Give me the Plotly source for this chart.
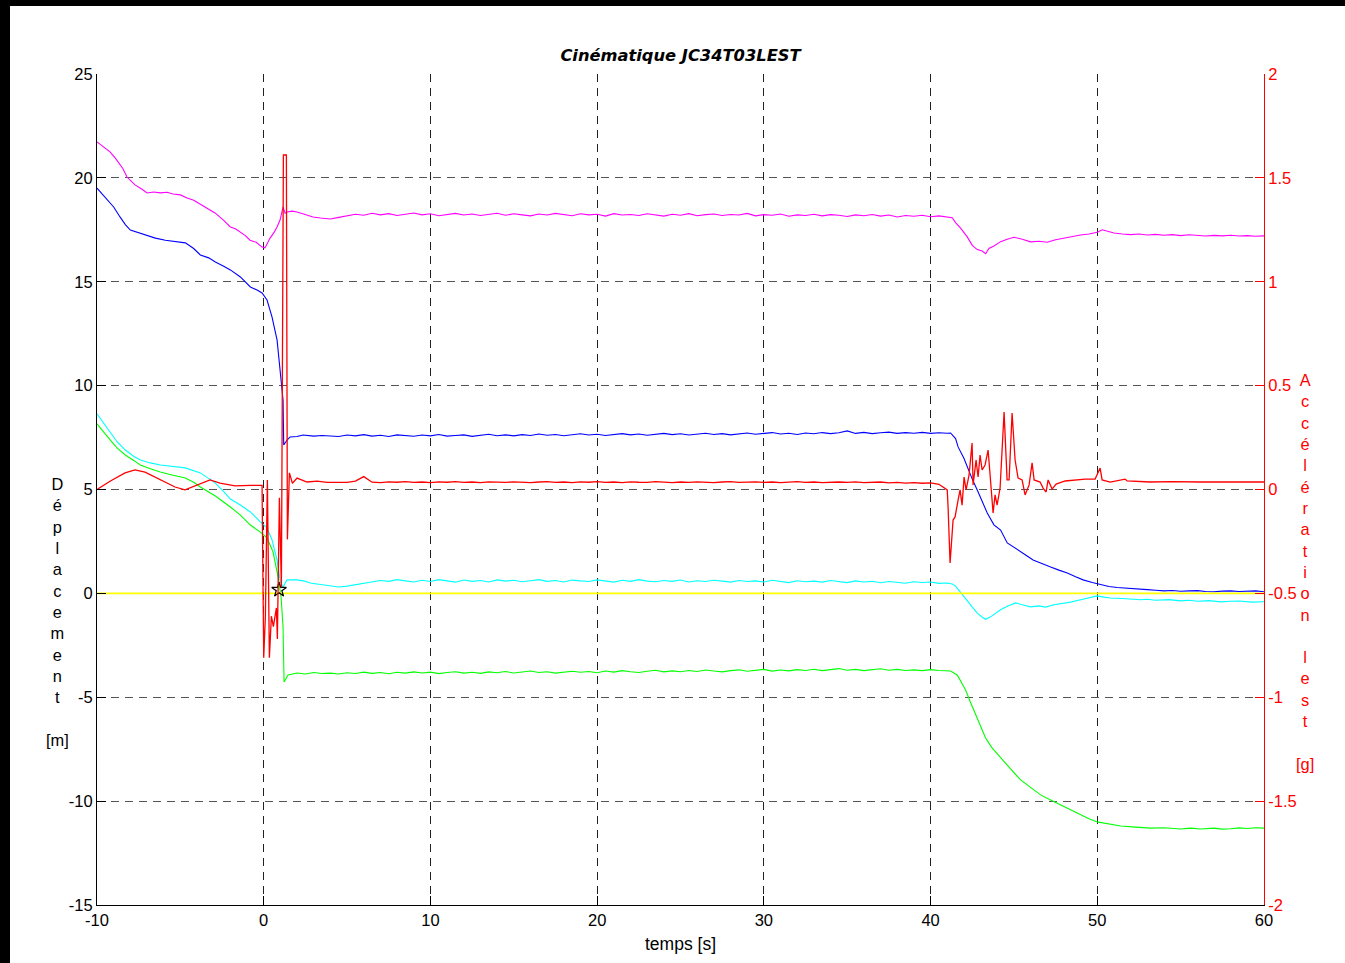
import plotly.graph_objects as go

# ---------------------------------------------------------------- data
# shared sample times of the steady part of the run (s)
t_plateau = [
    4.5, 5.0, 5.5, 6.0, 6.5, 7.0, 7.5, 8.0, 8.5, 9.0,
    9.5, 10.0, 10.5, 11.0, 11.5, 12.0, 12.5, 13.0, 13.5, 14.0,
    14.5, 15.0, 15.5, 16.0, 16.5, 17.0, 17.5, 18.0, 18.5, 19.0,
    19.5, 20.0, 20.5, 21.0, 21.5, 22.0, 22.5, 23.0, 23.5, 24.0,
    24.5, 25.0, 25.5, 26.0, 26.5, 27.0, 27.5, 28.0, 28.5, 29.0,
    29.5, 30.0, 30.5, 31.0, 31.5, 32.0, 32.5, 33.0, 33.5, 34.0,
    34.5, 35.0, 35.5, 36.0, 36.5, 37.0, 37.5, 38.0, 38.5, 39.0,
    39.5, 40.0, 40.5, 41.0,
]

# magenta displacement (m)
magenta_start = [
    (-10.0, 21.73), (-9.6, 21.5), (-9.22, 21.25), (-8.9, 20.95), (-8.74, 20.76),
    (-8.45, 20.45), (-8.2, 20.04), (-7.72, 19.66), (-7.3, 19.45), (-7.0, 19.27),
    (-6.6, 19.32), (-6.2, 19.28), (-5.8, 19.31), (-5.44, 19.22), (-5.0, 19.18),
    (-4.6, 19.03), (-4.2, 18.92), (-3.8, 18.74), (-3.3, 18.5), (-2.9, 18.3),
    (-2.4, 17.95), (-2.0, 17.64), (-1.7, 17.55), (-1.42, 17.4), (-1.1, 17.22),
    (-0.82, 17.0), (-0.45, 16.9), (-0.1, 16.67), (0.08, 16.63), (0.38, 17.1),
    (0.6, 17.35), (0.8, 17.64), (0.98, 17.97), (1.16, 18.6), (1.28, 18.3),
    (1.4, 18.36), (1.7, 18.4), (2.0, 18.36), (2.5, 18.25), (2.96, 18.12),
    (3.4, 18.07), (4.0, 18.02),
]
magenta_plateau = [
    18.10, 18.18, 18.25, 18.20, 18.30, 18.22, 18.28, 18.19, 18.26, 18.31,
    18.22, 18.27, 18.18, 18.25, 18.29, 18.21, 18.26, 18.19, 18.24, 18.30,
    18.20, 18.27, 18.22, 18.17, 18.26, 18.21, 18.29, 18.23, 18.18, 18.27,
    18.22, 18.25, 18.16, 18.28, 18.21, 18.24, 18.19, 18.27, 18.22, 18.16,
    18.25, 18.20, 18.28, 18.18, 18.23, 18.26, 18.19, 18.24, 18.21, 18.29,
    18.17, 18.23, 18.20, 18.26, 18.15, 18.22, 18.19, 18.25, 18.17, 18.23,
    18.20, 18.14, 18.22, 18.18, 18.24, 18.16, 18.21, 18.12, 18.19, 18.15,
    18.20, 18.13, 18.17, 18.12,
]
magenta_end = [
    (41.3, 18.08), (41.5, 17.85), (41.8, 17.58), (42.2, 17.16), (42.5, 16.75),
    (42.8, 16.55), (43.1, 16.48), (43.3, 16.35), (43.5, 16.6), (43.8, 16.72),
    (44.2, 16.93), (44.6, 17.05), (45.0, 17.14), (45.5, 17.05), (46.0, 16.92),
    (46.5, 16.95), (47.0, 16.9), (47.5, 17.02), (48.0, 17.1), (48.5, 17.18),
    (49.0, 17.25), (49.5, 17.3), (50.0, 17.38), (50.3, 17.5), (50.6, 17.42),
    (51.0, 17.35), (51.5, 17.3), (52.0, 17.27), (52.5, 17.3), (53.0, 17.25),
    (53.5, 17.28), (54.0, 17.24), (54.5, 17.27), (55.0, 17.22), (55.5, 17.26),
    (56.0, 17.24), (56.5, 17.2), (57.0, 17.23), (57.5, 17.21), (58.0, 17.24),
    (58.5, 17.2), (59.0, 17.22), (59.5, 17.19), (60.0, 17.21),
]

# blue displacement (m)
blue_start = [
    (-10.0, 19.51), (-9.7, 19.25), (-9.4, 18.98), (-9.0, 18.6), (-8.62, 18.12),
    (-8.3, 17.75), (-8.0, 17.49), (-7.5, 17.35), (-7.1, 17.25), (-6.5, 17.1),
    (-5.9, 17.0), (-5.3, 16.95), (-4.7, 16.87), (-4.2, 16.6), (-3.8, 16.29),
    (-3.3, 16.15), (-2.9, 15.95), (-2.4, 15.75), (-2.0, 15.57), (-1.4, 15.23),
    (-0.8, 14.75), (-0.4, 14.6), (-0.1, 14.46), (0.2, 14.12), (0.5, 13.3),
    (0.8, 12.2), (1.04, 10.27), (1.16, 9.31), (1.2, 7.14), (1.4, 7.38),
    (1.58, 7.53), (2.0, 7.55), (2.36, 7.62), (3.0, 7.57), (3.5, 7.6),
    (4.0, 7.56),
]
blue_plateau = [
    7.55, 7.62, 7.58, 7.64, 7.57, 7.61, 7.55, 7.63, 7.59, 7.56,
    7.62, 7.58, 7.65, 7.57, 7.60, 7.63, 7.56, 7.61, 7.66, 7.59,
    7.63, 7.58, 7.64, 7.60, 7.67, 7.61, 7.65, 7.59, 7.63, 7.68,
    7.62, 7.66, 7.60, 7.64, 7.69, 7.63, 7.67, 7.61, 7.66, 7.70,
    7.64, 7.68, 7.62, 7.67, 7.71, 7.65, 7.69, 7.63, 7.68, 7.72,
    7.66, 7.70, 7.74, 7.67, 7.71, 7.65, 7.72, 7.68, 7.74, 7.69,
    7.73, 7.82, 7.70, 7.75, 7.69, 7.73, 7.76, 7.70, 7.74, 7.71,
    7.75, 7.70, 7.73, 7.71,
]
blue_end = [
    (41.2, 7.72), (41.5, 7.45), (41.65, 7.05), (42.0, 6.5), (42.2, 6.08),
    (42.5, 5.5), (42.8, 4.98), (43.1, 4.4), (43.4, 3.87), (43.8, 3.3),
    (44.2, 3.05), (44.6, 2.43), (45.2, 2.09), (45.7, 1.85), (46.15, 1.61),
    (46.7, 1.45), (47.2, 1.27), (47.7, 1.12), (48.2, 0.98), (48.7, 0.8),
    (49.15, 0.65), (49.7, 0.52), (50.2, 0.41), (50.7, 0.33), (51.2, 0.28),
    (52.0, 0.22), (52.5, 0.2), (53.0, 0.18), (53.5, 0.15), (54.0, 0.12),
    (54.5, 0.14), (55.0, 0.1), (55.5, 0.12), (56.0, 0.13), (56.5, 0.09),
    (57.0, 0.08), (57.5, 0.11), (58.0, 0.12), (58.5, 0.09), (59.0, 0.1),
    (59.5, 0.12), (60.0, 0.08),
]

# cyan displacement (m)
cyan_start = [
    (-10.0, 8.64), (-9.6, 8.2), (-9.2, 7.77), (-8.8, 7.3), (-8.3, 6.9),
    (-7.8, 6.6), (-7.4, 6.42), (-6.8, 6.28), (-6.2, 6.18), (-5.5, 6.1),
    (-4.7, 6.04), (-3.8, 5.8), (-3.3, 5.55), (-2.9, 5.31), (-2.4, 4.9),
    (-2.0, 4.54), (-1.4, 4.25), (-0.8, 3.92), (-0.2, 3.44), (0.2, 3.15),
    (0.5, 2.57), (0.8, 1.6), (1.0, 0.55), (1.16, 0.31), (1.4, 0.65),
    (2.0, 0.65), (2.4, 0.6), (2.78, 0.5), (3.2, 0.45), (3.56, 0.41),
    (4.0, 0.33),
]
cyan_plateau = [
    0.31, 0.35, 0.42, 0.50, 0.56, 0.62, 0.58, 0.66, 0.60, 0.55,
    0.63, 0.57, 0.66, 0.59, 0.54, 0.64, 0.58, 0.62, 0.55, 0.65,
    0.59, 0.63, 0.56, 0.61, 0.66, 0.58, 0.62, 0.55, 0.64, 0.60,
    0.57, 0.65, 0.60, 0.54, 0.63, 0.58, 0.66, 0.59, 0.56, 0.62,
    0.58, 0.64, 0.55, 0.61, 0.57, 0.63, 0.59, 0.54, 0.62, 0.57,
    0.60, 0.55, 0.63, 0.58, 0.52, 0.61, 0.56, 0.59, 0.54, 0.62,
    0.57, 0.52, 0.60, 0.55, 0.58, 0.51, 0.57, 0.54, 0.49, 0.56,
    0.52, 0.55, 0.48, 0.50,
]
cyan_end = [
    (41.3, 0.45), (41.5, 0.35), (41.8, 0.07), (42.1, -0.25), (42.4, -0.55),
    (42.8, -0.95), (43.1, -1.15), (43.3, -1.25), (43.6, -1.13), (43.9, -0.95),
    (44.2, -0.79), (44.6, -0.62), (45.1, -0.46), (45.5, -0.55), (46.0, -0.65),
    (46.5, -0.6), (46.9, -0.66), (47.4, -0.55), (47.8, -0.5), (48.4, -0.42),
    (49.0, -0.31), (49.5, -0.22), (50.0, -0.12), (50.4, -0.18), (50.8, -0.22),
    (51.5, -0.25), (52.0, -0.29), (52.6, -0.31), (53.0, -0.28), (53.5, -0.33),
    (54.3, -0.3), (55.0, -0.36), (55.5, -0.33), (56.0, -0.38), (56.7, -0.35),
    (57.4, -0.41), (58.0, -0.38), (58.5, -0.37), (59.3, -0.42), (60.0, -0.4),
]

# green displacement (m)
green_start = [
    (-10.0, 8.16), (-9.6, 7.75), (-9.2, 7.38), (-8.8, 7.0), (-8.3, 6.66),
    (-7.8, 6.4), (-7.4, 6.18), (-6.8, 6.0), (-6.2, 5.84), (-5.5, 5.7),
    (-4.7, 5.55), (-4.2, 5.35), (-3.8, 5.12), (-2.9, 4.69), (-2.4, 4.4),
    (-2.0, 4.16), (-1.4, 3.77), (-0.8, 3.29), (-0.2, 2.95), (0.2, 2.67),
    (0.56, 1.99), (0.86, 0.79), (1.04, -0.17), (1.16, -1.62), (1.22, -4.27),
    (1.46, -3.93), (2.0, -3.83), (2.5, -3.88), (3.0, -3.81), (3.5, -3.86),
    (4.0, -3.84),
]
green_plateau = [
    -3.88, -3.82, -3.86, -3.79, -3.85, -3.81, -3.87, -3.80, -3.84, -3.78,
    -3.83, -3.79, -3.86, -3.81, -3.77, -3.84, -3.80, -3.85, -3.78, -3.82,
    -3.76, -3.83, -3.79, -3.74, -3.81, -3.77, -3.84, -3.78, -3.75, -3.80,
    -3.76, -3.82, -3.74, -3.79, -3.72, -3.77, -3.81, -3.75, -3.70, -3.78,
    -3.73, -3.77, -3.71, -3.76, -3.69, -3.74, -3.78, -3.72, -3.68, -3.75,
    -3.71, -3.66, -3.74, -3.69, -3.73, -3.67, -3.71, -3.65, -3.72, -3.68,
    -3.62, -3.70, -3.66, -3.72, -3.67, -3.63, -3.70, -3.66, -3.71, -3.68,
    -3.72, -3.67, -3.71, -3.74,
]
green_end = [
    (41.2, -3.74), (41.6, -3.93), (42.1, -4.65), (42.4, -5.25), (42.7, -5.85),
    (43.0, -6.45), (43.3, -6.96), (43.7, -7.45), (44.2, -7.92), (44.8, -8.45),
    (45.4, -8.98), (46.0, -9.35), (46.6, -9.7), (47.2, -9.95), (47.8, -10.19),
    (48.4, -10.45), (49.0, -10.67), (49.5, -10.85), (50.0, -11.0), (50.7, -11.1),
    (51.4, -11.2), (52.3, -11.25), (53.2, -11.3), (54.0, -11.28), (54.6, -11.33),
    (55.0, -11.34), (55.6, -11.3), (56.2, -11.34), (57.0, -11.3), (57.5, -11.35),
    (58.0, -11.33), (58.5, -11.29), (59.0, -11.32), (59.5, -11.28), (60.0, -11.3),
]

# lateral acceleration (g), right axis
accel_start = [
    (-10.0, 0.0), (-9.22, 0.04), (-8.32, 0.08), (-7.72, 0.094), (-7.12, 0.084),
    (-6.22, 0.046), (-5.32, 0.012), (-4.72, -0.002), (-4.12, 0.017), (-3.22, 0.046),
    (-2.62, 0.031), (-1.72, 0.017), (-0.82, 0.02), (-0.1, 0.02), (0.0, -0.81),
    (0.1, -0.61), (0.22, 0.046), (0.34, -0.81), (0.46, -0.61), (0.58, -0.66),
    (0.76, -0.57), (0.82, -0.72), (0.94, -0.04), (1.06, -0.47), (1.18, 1.61),
    (1.36, 1.61), (1.42, -0.24), (1.54, 0.08), (1.72, 0.03), (2.0, 0.055),
    (2.6, 0.036), (3.2, 0.04), (3.8, 0.034),
]
accel_plateau = [
    0.036, 0.034, 0.040, 0.062, 0.035, 0.033, 0.037, 0.035, 0.038, 0.034,
    0.036, 0.033, 0.037, 0.035, 0.038, 0.034, 0.036, 0.033, 0.037, 0.035,
    0.034, 0.037, 0.035, 0.033, 0.036, 0.038, 0.034, 0.036, 0.033, 0.037,
    0.035, 0.038, 0.034, 0.036, 0.033, 0.037, 0.035, 0.034, 0.038, 0.036,
    0.033, 0.036, 0.034, 0.037, 0.035, 0.033, 0.036, 0.038, 0.034, 0.035,
    0.037, 0.034, 0.036, 0.033, 0.035, 0.038, 0.034, 0.036, 0.033, 0.035,
    0.036, 0.034, 0.037, 0.033, 0.035, 0.036, 0.032, 0.034, 0.031, 0.033,
    0.030, 0.032, 0.025, -0.002,
]
accel_end = [
    (41.05, -0.084), (41.17, -0.354), (41.35, -0.147), (41.47, -0.132), (41.65, -0.051),
    (41.77, -0.002), (41.89, -0.075), (42.01, 0.06), (42.13, -0.002), (42.31, 0.07),
    (42.49, 0.224), (42.55, 0.022), (42.73, 0.142), (42.85, 0.06), (42.97, 0.166),
    (43.09, 0.094), (43.27, 0.118), (43.45, 0.19), (43.57, 0.07), (43.75, -0.113),
    (43.87, -0.026), (43.99, -0.075), (44.17, 0.007), (44.41, 0.373), (44.59, 0.046),
    (44.71, 0.046), (44.89, 0.368), (45.07, 0.142), (45.25, 0.055), (45.49, 0.046),
    (45.67, -0.026), (45.91, 0.022), (46.09, 0.128), (46.21, 0.046), (46.57, 0.036),
    (46.75, 0.007), (46.93, -0.012), (47.05, 0.046), (47.29, 0.002), (47.53, 0.026),
    (48.07, 0.041), (48.67, 0.046), (49.27, 0.05), (49.87, 0.05), (50.17, 0.103),
    (50.29, 0.046), (50.77, 0.036), (51.67, 0.05), (51.79, 0.041), (53.16, 0.036),
    (54.5, 0.038), (56.16, 0.036), (58.0, 0.037), (60.0, 0.036),
]

# reference line and the marked instant
zero_t = [-10.0, 60.0]
zero_y = [0.0, 0.0]
mark_t = [0.92]
mark_y = [0.17]

x_ticks = [-10, 0, 10, 20, 30, 40, 50, 60]
y_ticks = [-15, -10, -5, 0, 5, 10, 15, 20, 25]
y2_ticks = [-2, -1.5, -1, -0.5, 0, 0.5, 1, 1.5, 2]
y2_labels = ["-2", "-1.5", "-1", "-0.5", "0", "0.5", "1", "1.5", "2"]


def assemble(start, plateau, end):
    ts = [p[0] for p in start] + t_plateau + [p[0] for p in end]
    vs = [p[1] for p in start] + plateau + [p[1] for p in end]
    return ts, vs


# ---------------------------------------------------------------- figure
W, H = 1345, 963
ML, MR, MT, MB = 97, 81, 74, 58
PW, PH = W - ML - MR, H - MT - MB
FONT = "Liberation Sans, Arial, Helvetica, sans-serif"

fig = go.Figure()

series = [
    (magenta_start, magenta_plateau, magenta_end, "#FF00FF"),
    (blue_start, blue_plateau, blue_end, "#0000FF"),
    (cyan_start, cyan_plateau, cyan_end, "#00FFFF"),
    (green_start, green_plateau, green_end, "#00FF00"),
]
for start, plateau, end, color in series:
    tx, vy = assemble(start, plateau, end)
    fig.add_trace(go.Scatter(x=tx, y=vy, mode="lines",
                             line=dict(color=color, width=1.1),
                             showlegend=False, hoverinfo="skip"))

fig.add_trace(go.Scatter(x=zero_t, y=zero_y, mode="lines",
                         line=dict(color="#FFFF00", width=1.6),
                         showlegend=False, hoverinfo="skip"))
fig.add_trace(go.Scatter(x=mark_t, y=mark_y, mode="markers",
                         marker=dict(symbol="star-open", size=11,
                                     color="black", line=dict(width=1.2)),
                         showlegend=False, hoverinfo="skip"))

ta, va = assemble(accel_start, accel_plateau, accel_end)
fig.add_trace(go.Scatter(x=ta, y=va, mode="lines", yaxis="y2",
                         line=dict(color="#FF0000", width=1.3),
                         showlegend=False, hoverinfo="skip"))

axis_common = dict(
    showgrid=True, griddash="8px,6px", gridwidth=1,
    zeroline=False, showline=True, linewidth=1,
    ticks="inside", ticklen=9, tickwidth=1,
)

fig.update_layout(
    width=W, height=H,
    margin=dict(l=ML, r=MR, t=MT, b=MB, pad=0),
    paper_bgcolor="white", plot_bgcolor="white",
    font=dict(family=FONT, size=16, color="black"),
    title=dict(text="<b><i>Cinématique JC34T03LEST</i></b>",
               font=dict(family="DejaVu Sans, Verdana, sans-serif", size=16.3, color="black"),
               x=(ML + PW / 2) / W, xanchor="center",
               y=1 - 55 / H, yanchor="middle"),
    xaxis=dict(range=[-10, 60], tickvals=x_ticks,
               ticktext=[str(v) for v in x_ticks],
               gridcolor="#222", linecolor="black", tickcolor="black",
               tickfont=dict(size=16.5, color="black"),
               title=dict(text="temps [s]", font=dict(size=17.5), standoff=9),
               **axis_common),
    yaxis=dict(range=[-15, 25], tickvals=y_ticks,
               ticktext=[str(v) for v in y_ticks],
               gridcolor="#555", linecolor="black", tickcolor="black",
               tickfont=dict(size=16.5, color="black"),
               **axis_common),
    yaxis2=dict(range=[-2, 2], overlaying="y", side="right",
                tickvals=y2_ticks, ticktext=y2_labels,
                showgrid=False, zeroline=False, showline=True,
                linecolor="#FF0000", linewidth=1,
                ticks="inside", ticklen=9, tickcolor="#FF0000",
                tickfont=dict(size=16.5, color="#FF0000")),
)


def px_x(px):
    return (px - ML) / PW


def px_y(py):
    return (H - MB - py) / PH


# stacked axis captions
fig.add_annotation(text="<br>".join(list("Déplacement") + [" ", "[m]"]),
                   xref="paper", yref="paper", x=px_x(57), y=px_y(612),
                   xanchor="center", yanchor="middle", showarrow=False,
                   font=dict(family=FONT, size=16.4, color="black"))
fig.add_annotation(text="<br>".join(list("Accélération") + [" "] + list("lest") + [" ", "[g]"]),
                   xref="paper", yref="paper", x=px_x(1305), y=px_y(571.5),
                   xanchor="center", yanchor="middle", showarrow=False,
                   font=dict(family=FONT, size=16.4, color="#FF0000"))

# dark frame on the left and top edges of the page
fig.add_shape(type="rect", xref="paper", yref="paper",
              x0=px_x(0), x1=px_x(10), y0=px_y(H), y1=px_y(0),
              fillcolor="black", line=dict(width=0), layer="above")
fig.add_shape(type="rect", xref="paper", yref="paper",
              x0=px_x(0), x1=px_x(W), y0=px_y(6), y1=px_y(0),
              fillcolor="black", line=dict(width=0), layer="above")

fig.write_html("out.html")
